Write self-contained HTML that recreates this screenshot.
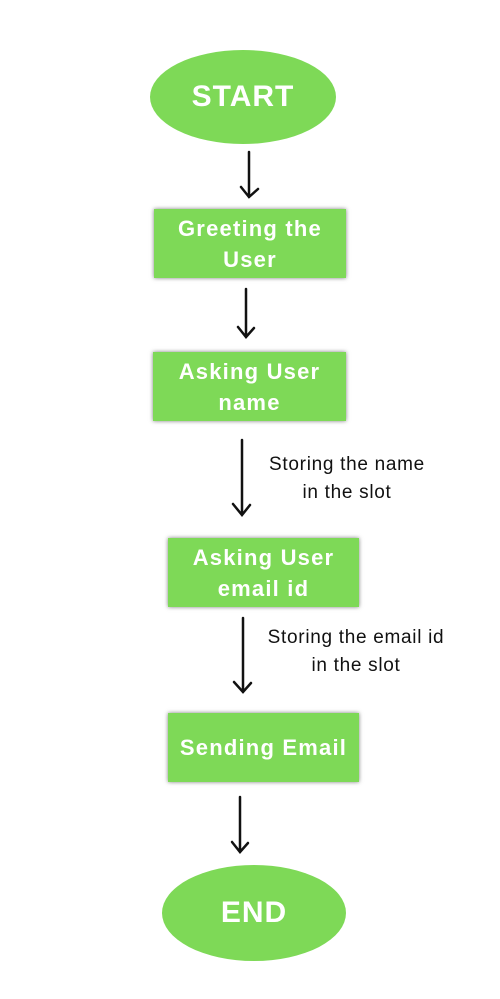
<!DOCTYPE html>
<html><head><meta charset="utf-8"><style>
html,body{margin:0;padding:0;background:#fff;}
body{width:500px;height:999px;position:relative;overflow:hidden;font-family:"Liberation Sans",sans-serif;}
.b{position:absolute;background:#7ed957;color:#fff;font-weight:bold;text-align:center;display:flex;align-items:center;justify-content:center;font-size:22px;letter-spacing:1.2px;line-height:31px;box-shadow:0 0 4px rgba(0,0,0,0.5);}
.e{position:absolute;background:#7ed957;color:#fff;font-weight:bold;border-radius:50%;display:flex;align-items:center;justify-content:center;font-size:30px;letter-spacing:1px;}
.t{position:absolute;font-size:19px;letter-spacing:0.7px;color:#111;text-align:center;line-height:28px;white-space:nowrap;}
</style></head><body>
<div class="e" style="left:150px;top:50px;width:186px;height:94px;">START</div>
<div class="b" style="left:154px;top:209px;width:192px;height:69px;">Greeting the<br>User</div>
<div class="b" style="left:153px;top:352px;width:193px;height:69px;">Asking User<br>name</div>
<div class="b" style="left:168px;top:538px;width:191px;height:69px;">Asking User<br>email id</div>
<div class="b" style="left:168px;top:713px;width:191px;height:69px;">Sending Email</div>
<div class="e" style="left:162px;top:865px;width:184px;height:96px;">END</div>
<svg width="500" height="999" style="position:absolute;left:0;top:0" fill="none" stroke="#111" stroke-width="2.5" stroke-linecap="round">
<path d="M249 152 L249 197 M241 187 L249 197 L258 189"/>
<path d="M246 289 L246 337 M238 327 L246 337 L254 328"/>
<path d="M242 440 L242 514 M233 504 L242 515 L250 505"/>
<path d="M243 618 L243 692 M234 682 L243 692 L251 683"/>
<path d="M240 797 L240 852 M232 842 L240 852 L248 843"/>
</svg>
<div class="t" style="left:255px;top:451px;width:184px;">Storing the name<br>in the slot</div>
<div class="t" style="left:255px;top:624px;width:202px;">Storing the email id<br>in the slot</div>
</body></html>
